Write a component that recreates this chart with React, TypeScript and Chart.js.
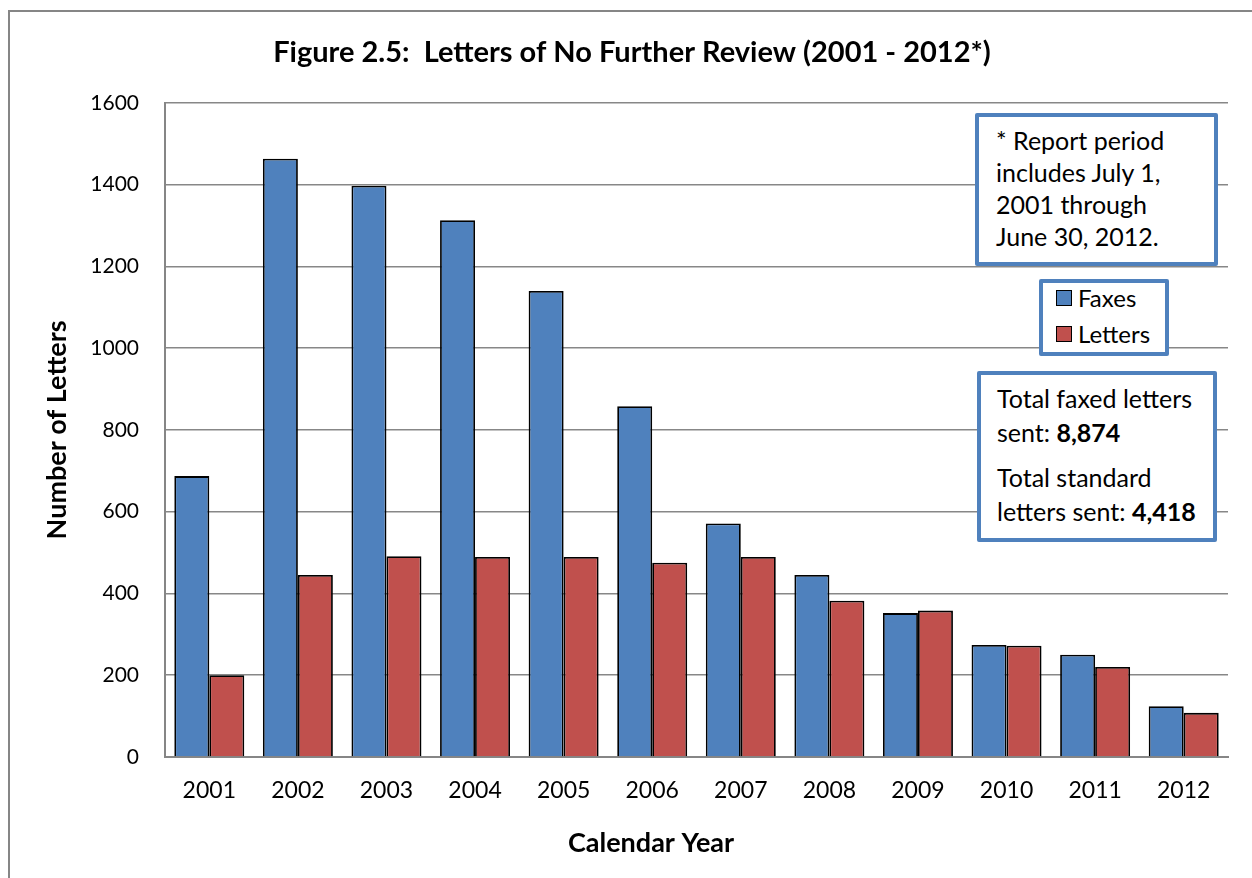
import React, { useEffect, useRef } from "react";
import { Chart, registerables } from "chart.js";

Chart.register(...registerables);

const years = ["2001", "2002", "2003", "2004", "2005", "2006", "2007", "2008", "2009", "2010", "2011", "2012"];
const faxes = [687, 1463, 1397, 1313, 1140, 858, 571, 445, 352, 274, 250, 124];
const letters = [200, 445, 491, 489, 489, 475, 489, 382, 358, 272, 220, 108];
const seriesNames = ["Faxes", "Letters"];
const seriesColors = ["#4F81BD", "#C0504D"];
const yMin = 0;
const yMax = 1600;
const yStep = 200;
const titleText = "Figure 2.5:  Letters of No Further Review (2001 - 2012*)";
const xTitle = "Calendar Year";
const yTitle = "Number of Letters";
const noteLines = ["* Report period", "includes July 1,", "2001 through", "June 30, 2012."];
const totalFaxed = "8,874";
const totalStandard = "4,418";

const FONT = "Lato, 'Open Sans', sans-serif";
const BOX_BLUE = "#4F81BD";

const layoutTweaks = {
  id: "layoutTweaks",
  afterLayout(chart: any) {
    const t = chart.titleBlock;
    if (t) {
      t.left = 36;
      t.right = 1228;
    }
  },
  afterDraw(chart: any) {
    const ctx = chart.ctx;
    ctx.save();
    ctx.fillStyle = "#000";
    ctx.font = `bold 27px ${FONT}`;
    ctx.textAlign = "center";
    ctx.textBaseline = "middle";
    ctx.fillText(xTitle, 651, 843);
    ctx.restore();
  },
};

export default function App() {
  const ref = useRef<HTMLCanvasElement | null>(null);

  useEffect(() => {
    if (!ref.current) return;
    const chart = new Chart(ref.current, {
      type: "bar",
      data: {
        labels: years,
        datasets: [
          {
            label: seriesNames[0],
            data: faxes,
            backgroundColor: seriesColors[0],
            borderColor: "#000",
            borderWidth: 1.8,
            categoryPercentage: 0.79,
            barPercentage: 1.0,
          },
          {
            label: seriesNames[1],
            data: letters,
            backgroundColor: seriesColors[1],
            borderColor: "#000",
            borderWidth: 1.8,
            categoryPercentage: 0.79,
            barPercentage: 1.0,
          },
        ],
      },
      options: {
        animation: false,
        responsive: false,
        maintainAspectRatio: false,
        events: [],
        layout: { padding: { left: 0, right: 24, top: 0, bottom: 0 } },
        plugins: {
          legend: { display: false },
          tooltip: { enabled: false },
          title: {
            display: true,
            text: titleText,
            color: "#000",
            font: { family: FONT, size: 29, weight: "bold" },
            padding: { top: 35, bottom: 33 },
          },
        },
        scales: {
          x: {
            grid: { display: false, drawTicks: false },
            border: { display: true, color: "#868686", width: 2 },
            ticks: { color: "#000", font: { family: FONT, size: 23 }, padding: 20 },
            title: { display: false },
            afterFit: (s: any) => {
              s.height = 121;
            },
          },
          y: {
            min: yMin,
            max: yMax,
            grid: { color: "#878787", lineWidth: 1.5, drawTicks: false },
            border: { display: true, color: "#868686", width: 2 },
            ticks: {
              stepSize: yStep,
              color: "#000",
              font: { family: FONT, size: 21 },
              padding: 26,
              callback: (v: any) => String(v),
            },
            title: {
              display: true,
              text: yTitle,
              color: "#000",
              font: { family: FONT, size: 27, weight: "bold" },
              padding: { top: 41, bottom: 0 },
            },
            afterFit: (s: any) => {
              s.width = 165;
            },
          },
        },
      },
      plugins: [layoutTweaks],
    });
    return () => chart.destroy();
  }, []);

  const boxBase: React.CSSProperties = {
    position: "absolute",
    boxSizing: "border-box",
    border: `4px solid ${BOX_BLUE}`,
    borderRadius: 2,
    background: "#fff",
    fontFamily: FONT,
    fontSize: 25,
    color: "#000",
  };

  const swatch = (c: string): React.CSSProperties => ({
    display: "inline-block",
    width: 16,
    height: 16,
    boxSizing: "border-box",
    border: "1.5px solid #000",
    background: c,
    marginRight: 6,
    verticalAlign: "middle",
  });

  return (
    <div style={{ position: "relative", width: 1252, height: 878, overflow: "hidden", background: "#fff" }}>
      <style>{`body{margin:0;}`}</style>
      <div
        style={{
          position: "absolute",
          left: 8,
          top: 10,
          width: 1400,
          height: 1000,
          borderLeft: "2.5px solid #868686",
          borderTop: "2.5px solid #868686",
        }}
      />
      <canvas ref={ref} width={1252} height={878} style={{ position: "absolute", left: 0, top: 0 }} />
      <div style={{ ...boxBase, left: 975, top: 113, width: 243, height: 153, padding: "7px 0 0 17px", lineHeight: "32px" }}>
        {noteLines.map((l, i) => (
          <div key={i}>{l}</div>
        ))}
      </div>
      <div style={{ ...boxBase, left: 1039, top: 279, width: 130, height: 77, padding: "0 0 0 13px", lineHeight: "36px", fontSize: 24 }}>
        {seriesNames.map((n, i) => (
          <div key={n} style={{ whiteSpace: "nowrap", height: 36, marginTop: i === 0 ? -6 : 0 }}>
            <span style={swatch(seriesColors[i])} />
            <span style={{ verticalAlign: "middle" }}>{n}</span>
          </div>
        ))}
      </div>
      <div style={{ ...boxBase, left: 977, top: 371, width: 240, height: 171, padding: "6px 0 0 16px", lineHeight: "34px" }}>
        <div>Total faxed letters</div>
        <div>
          sent: <b>{totalFaxed}</b>
        </div>
        <div style={{ marginTop: 11 }}>Total standard</div>
        <div>
          letters sent: <b>{totalStandard}</b>
        </div>
      </div>
    </div>
  );
}
